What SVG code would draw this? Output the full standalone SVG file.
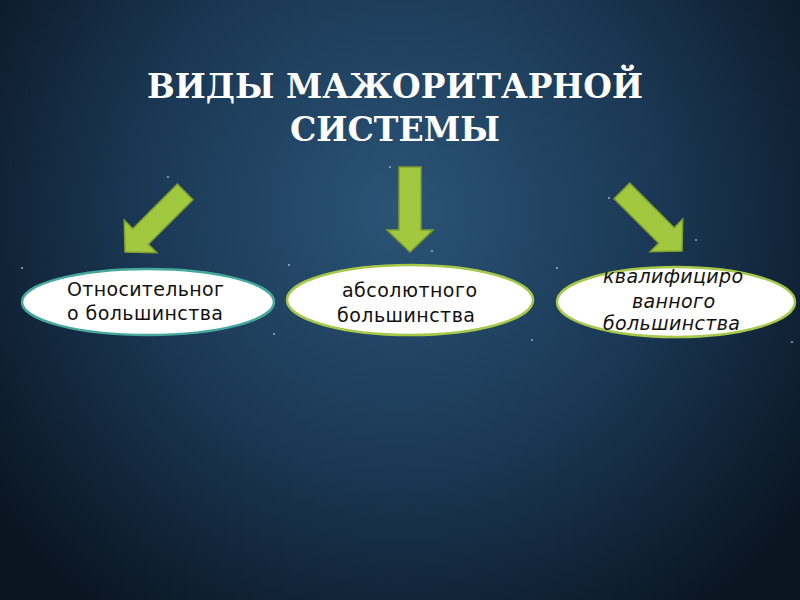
<svg xmlns="http://www.w3.org/2000/svg" width="800" height="600" viewBox="0 0 800 600">
  <defs>
    <radialGradient id="bg" cx="400" cy="210" r="500" gradientUnits="userSpaceOnUse">
      <stop offset="0" stop-color="#2b5476"/>
      <stop offset="0.5" stop-color="#1b3956"/>
      <stop offset="1" stop-color="#0a1522"/>
    </radialGradient>
    <polygon id="arrow" points="-11,-85 11,-85 11,-22 23,-22 0,0 -23,-22 -11,-22"/>
  </defs>
  <style>
    .title { font-family: "DejaVu Serif", "Liberation Serif", serif; font-weight: bold; font-size: 34px; fill: #ffffff; }
    .arrow { fill: #a2c83f; stroke: #7e9f2e; stroke-width: 1.5; stroke-linejoin: miter; }
    .oval { fill: #ffffff; stroke-width: 2.5; }
    .lbl { font-family: "DejaVu Sans", "Noto Sans", sans-serif; font-size: 19px; fill: #111111; }
    .it { font-style: italic; }
    .dot { fill: #b8cde0; opacity: 0.8; }
  </style>
  <rect width="800" height="600" fill="url(#bg)"/>
  <g id="dots">
    <circle class="dot" cx="168" cy="177" r="1"/>
    <circle class="dot" cx="390" cy="167" r="1"/>
    <circle class="dot" cx="609" cy="198" r="1"/>
    <circle class="dot" cx="696" cy="240" r="1"/>
    <circle class="dot" cx="22" cy="268" r="1"/>
    <circle class="dot" cx="289" cy="265" r="1"/>
    <circle class="dot" cx="557" cy="268" r="1"/>
    <circle class="dot" cx="274" cy="334" r="1"/>
    <circle class="dot" cx="532" cy="340" r="1"/>
    <circle class="dot" cx="792" cy="342" r="1"/>
    <circle class="dot" cx="432" cy="251" r="1"/>
  </g>
  <g id="title">
    <text class="title" x="395" y="98" text-anchor="middle" textLength="496" lengthAdjust="spacingAndGlyphs">ВИДЫ МАЖОРИТАРНОЙ</text>
    <text class="title" x="395" y="141" text-anchor="middle" textLength="210" lengthAdjust="spacingAndGlyphs">СИСТЕМЫ</text>
  </g>
  <g id="connectors">
    <use href="#arrow" class="arrow" transform="translate(125,252) rotate(45)"/>
    <use href="#arrow" class="arrow" transform="translate(410,252)"/>
    <use href="#arrow" class="arrow" transform="translate(682,251) rotate(-45)"/>
  </g>
  <g id="node-relative">
    <ellipse class="oval" cx="148" cy="302" rx="126" ry="33" stroke="#45a89c"/>
    <text class="lbl" x="67" y="296" textLength="157" lengthAdjust="spacing">Относительног</text>
    <text class="lbl" x="67" y="320" textLength="156" lengthAdjust="spacing">о большинства</text>
  </g>
  <g id="node-absolute">
    <ellipse class="oval" cx="410" cy="300" rx="123" ry="35" stroke="#a6c84a"/>
    <text class="lbl" x="342" y="297" textLength="135" lengthAdjust="spacing">абсолютного</text>
    <text class="lbl" x="337" y="322" textLength="138" lengthAdjust="spacing">большинства</text>
  </g>
  <g id="node-qualified">
    <ellipse class="oval" cx="676" cy="302" rx="119" ry="35" stroke="#a6c84a"/>
    <text class="lbl it" x="603" y="283" textLength="140" lengthAdjust="spacing">квалифициро</text>
    <text class="lbl it" x="632" y="308" textLength="83" lengthAdjust="spacing">ванного</text>
    <text class="lbl it" x="603" y="330" textLength="137" lengthAdjust="spacing">большинства</text>
  </g>
</svg>
